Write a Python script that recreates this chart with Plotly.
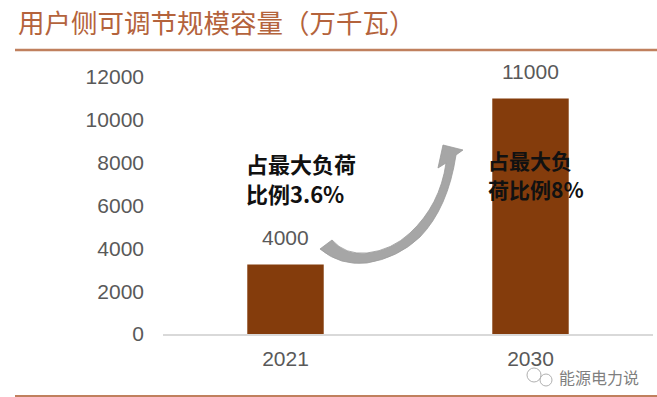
import plotly.graph_objects as go

# ---- data ----
categories = ["2021", "2030"]
bar_values = [3250, 11000]
bar_labels = ["4000", "11000"]
y_ticks = [0, 2000, 4000, 6000, 8000, 10000, 12000]
y_tick_text = ["0", "2000", "4000", "6000", "8000", "10000", "12000"]
title_text = "用户侧可调节规模容量（万千瓦）"
note_2021 = ["占最大负荷", "比例3.6%"]
note_2030 = ["占最大负", "荷比例8%"]
watermark = "能源电力说"

W, H = 657, 397
ML, MR, MT, MB = 163, 4, 77, 63
PW = W - ML - MR
PH = H - MT - MB


def px(x, y):
    """pixel -> paper coordinates"""
    return (x - ML) / PW, (H - MB - y) / PH


BAR_COLOR = "#843c0c"
TICK_COLOR = "#595959"
NUM_FONT = "Liberation Sans"
CJK_FONT = "Noto Sans CJK SC"

fig = go.Figure()
fig.add_trace(go.Bar(
    x=categories, y=bar_values,
    marker=dict(color=BAR_COLOR, line=dict(width=0)),
    hoverinfo="skip",
))

annotations = []
# data labels above bars
for i, (v, t) in enumerate(zip(bar_values, bar_labels)):
    annotations.append(dict(
        x=i, y=v, xref="x", yref="y", text=t, showarrow=False,
        yanchor="bottom", yshift=13,
        font=dict(family=NUM_FONT, size=21, color=TICK_COLOR),
    ))

# bold notes
for i, line in enumerate(note_2021):
    x0, y0 = px(244, 163 + 30 * i)
    annotations.append(dict(
        x=x0, y=y0, xref="paper", yref="paper", text="<b>" + line + "</b>",
        showarrow=False, xanchor="left", yanchor="middle",
        font=dict(family=CJK_FONT, size=22, color="#111111"),
    ))
for i, line in enumerate(note_2030):
    x0, y0 = px(486, 160 + 29 * i)
    annotations.append(dict(
        x=x0, y=y0, xref="paper", yref="paper", text="<b>" + line + "</b>",
        showarrow=False, xanchor="left", yanchor="middle",
        font=dict(family=CJK_FONT, size=21, color="#111111"),
    ))

# title
tx, ty = px(16, 21)
annotations.append(dict(
    x=tx, y=ty, xref="paper", yref="paper", text=title_text, showarrow=False,
    xanchor="left", yanchor="middle",
    font=dict(family=CJK_FONT, size=26.5, color="#b4633c"),
))
# watermark
wx, wy = px(557, 377)
annotations.append(dict(
    x=wx, y=wy, xref="paper", yref="paper", text=watermark, showarrow=False,
    xanchor="left", yanchor="middle",
    font=dict(family=CJK_FONT, size=16, color="#7f7f7f"),
))

shapes = []
# title underline and bottom line
lx0, ly = px(15, 50)
lx1, _ = px(W, 50)
shapes.append(dict(type="line", xref="paper", yref="paper", x0=lx0, x1=lx1,
                   y0=ly, y1=ly, line=dict(color="#c0805e", width=2.5)))
_, by = px(0, 396)
shapes.append(dict(type="line", xref="paper", yref="paper", x0=lx0, x1=lx1,
                   y0=by, y1=by, line=dict(color="#c0805e", width=2)))

# curved arrow (decorative)
def P(x, y):
    a, b = px(x, y)
    return f"{a:.4f},{b:.4f}"

path = (
    "M " + P(320, 249)
    + " Q " + P(340, 266) + " " + P(367, 263)
    + " Q " + P(398, 258) + " " + P(420, 237)
    + " Q " + P(448, 208) + " " + P(456, 155)
    + " L " + P(463, 150)
    + " L " + P(443, 145)
    + " L " + P(438, 168)
    + " L " + P(446, 163)
    + " Q " + P(440, 205) + " " + P(410, 233)
    + " Q " + P(392, 250) + " " + P(367, 253)
    + " Q " + P(345, 255) + " " + P(332, 240)
    + " Z"
)
shapes.append(dict(type="path", xref="paper", yref="paper", path=path,
                   fillcolor="#a6a6a6", line=dict(color="#9a9a9a", width=0.8)))

# small chat-bubble icon for watermark
for cx, cy, r in [(534, 375, 7), (546, 380, 6)]:
    x0, y0 = px(cx - r, cy + r)
    x1, y1 = px(cx + r, cy - r)
    shapes.append(dict(type="circle", xref="paper", yref="paper",
                       x0=x0, y0=y0, x1=x1, y1=y1,
                       line=dict(color="#b0b0b0", width=1)))

fig.update_layout(
    width=W, height=H,
    margin=dict(l=ML, r=MR, t=MT, b=MB, autoexpand=False),
    paper_bgcolor="white", plot_bgcolor="white",
    showlegend=False,
    bargap=0.688,
    annotations=annotations,
    shapes=shapes,
    xaxis=dict(
        type="category", range=[-0.5, 1.5],
        showline=True, linecolor="#d9d9d9", linewidth=1.5,
        showgrid=False, zeroline=False, ticks="",
        tickfont=dict(family=NUM_FONT, size=21, color=TICK_COLOR),
        ticklabelstandoff=5,
    ),
    yaxis=dict(
        range=[0, 12000], tickvals=y_ticks, ticktext=y_tick_text,
        showline=False, showgrid=False, zeroline=False, ticks="",
        tickfont=dict(family=NUM_FONT, size=21, color=TICK_COLOR),
        ticklabelstandoff=18,
    ),
)

fig.write_html(
    "out.html",
    config={"displayModeBar": False},
    post_script="document.body.style.margin='0';document.body.style.padding='0';",
)
